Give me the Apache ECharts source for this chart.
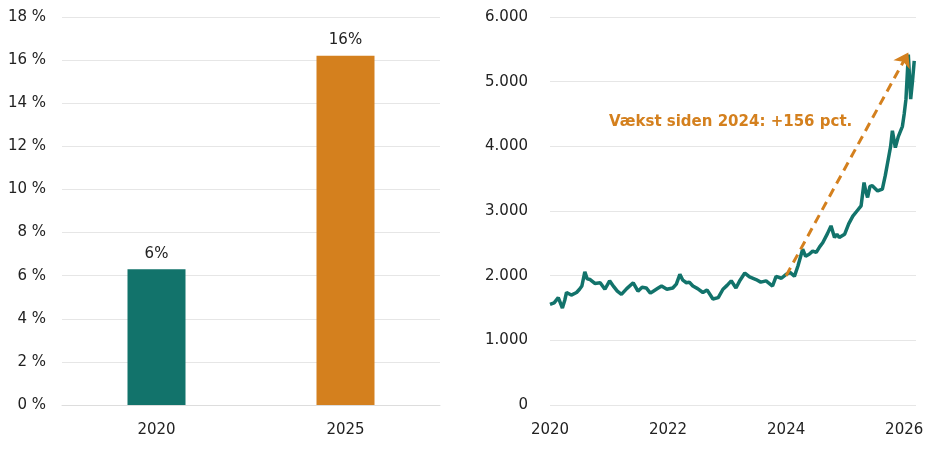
<!DOCTYPE html>
<html>
<head>
<meta charset="utf-8">
<script src="https://cdn.jsdelivr.net/npm/echarts@6/dist/echarts.min.js"></script>
<style>html,body{margin:0;padding:0;background:#fff}#chart{width:928px;height:451px}</style>
</head>
<body>
<div id="chart"></div>
<script>
const barCategories = ['2020', '2025'];
const barValues = [6.3, 16.2];
const barLabels = ['6%', '16%'];
const barColors = ['#12736b', '#d4801e'];

const lineYears = [2020.0, 2020.07, 2020.14, 2020.21, 2020.25, 2020.28, 2020.36, 2020.45, 2020.5, 2020.54, 2020.59, 2020.63, 2020.68, 2020.76, 2020.85, 2020.93,
    2021.01, 2021.08, 2021.14, 2021.21, 2021.3, 2021.41, 2021.49, 2021.56, 2021.63, 2021.7, 2021.75, 2021.82, 2021.89, 2021.98, 2022.08, 2022.14, 2022.20, 2022.25, 2022.31,
    2022.36, 2022.42, 2022.5, 2022.59, 2022.66, 2022.76, 2022.85, 2022.93, 2023.0, 2023.07, 2023.15, 2023.22, 2023.30, 2023.38, 2023.49, 2023.57, 2023.66,
    2023.77, 2023.83, 2023.92, 2024.0, 2024.07, 2024.14, 2024.2, 2024.28, 2024.33, 2024.39, 2024.45, 2024.51, 2024.57, 2024.62, 2024.7, 2024.76, 2024.82, 2024.86, 2024.90,
    2024.99, 2025.06, 2025.13, 2025.2, 2025.27, 2025.32, 2025.35, 2025.38, 2025.42, 2025.46, 2025.55, 2025.63, 2025.68, 2025.72, 2025.77, 2025.80, 2025.85,
    2025.9, 2025.97, 2026.0, 2026.03, 2026.07, 2026.11, 2026.14, 2026.17];
const lineValues = [1556, 1580, 1660, 1500, 1620, 1740, 1700, 1740, 1790, 1840, 2060, 1950, 1940, 1880, 1890, 1790,
    1920, 1830, 1760, 1710, 1800, 1890, 1760, 1820, 1810, 1730, 1760, 1800, 1840, 1790, 1810, 1870, 2020, 1930, 1890,
    1900, 1840, 1800, 1740, 1780, 1640, 1660, 1790, 1850, 1920, 1810, 1930, 2040, 1980, 1940, 1900, 1920,
    1840, 1990, 1960, 2020, 2050, 1990, 2150, 2410, 2300, 2330, 2380, 2360, 2450, 2510, 2650, 2770, 2590, 2640, 2590,
    2640, 2800, 2920, 3000, 3080, 3440, 3300, 3210, 3380, 3390, 3310, 3340, 3550, 3750, 4000, 4240, 3980,
    4150, 4310, 4500, 4730, 5420, 4730, 5000, 5320];
const arrowFrom = [2024.0, 2000];
const arrowTo = [2026.07, 5450];
const annotation = 'Vækst siden 2024: +156 pct.';

const font = 'DejaVu Sans';
const chart = echarts.init(document.getElementById('chart'));
chart.setOption({
    animation: false,
    textStyle: { fontFamily: font },
    grid: [
        { left: 62, right: 488, top: 17, bottom: 46 },
        { left: 550, right: 12, top: 17, bottom: 46 }
    ],
    xAxis: [
        {
            gridIndex: 0, type: 'category', data: barCategories,
            axisLine: { lineStyle: { color: '#ddd' } }, axisTick: { show: false },
            axisLabel: { color: '#222', fontSize: 15, margin: 18 }
        },
        {
            gridIndex: 1, type: 'value', min: 2020, max: 2026.2, interval: 2,
            axisLine: { show: false }, axisTick: { show: false }, splitLine: { show: false },
            axisLabel: { color: '#222', fontSize: 15, margin: 18, showMaxLabel: false,
                formatter: v => Number.isInteger(v) ? String(v) : '' }
        }
    ],
    yAxis: [
        {
            gridIndex: 0, type: 'value', min: 0, max: 18, interval: 2,
            axisLine: { show: false }, axisTick: { show: false },
            splitLine: { lineStyle: { color: '#e6e6e6' } },
            axisLabel: { color: '#222', fontSize: 15, margin: 16, formatter: v => v + ' %' }
        },
        {
            gridIndex: 1, type: 'value', min: 0, max: 6000, interval: 1000,
            axisLine: { show: false }, axisTick: { show: false },
            splitLine: { lineStyle: { color: '#e6e6e6' } },
            axisLabel: { color: '#222', fontSize: 15, margin: 22,
                formatter: v => v === 0 ? '0' : (v / 1000) + '.000' }
        }
    ],
    series: [
        {
            type: 'bar', xAxisIndex: 0, yAxisIndex: 0, barWidth: 58,
            data: barValues.map((v, i) => ({ value: v, itemStyle: { color: barColors[i] } })),
            label: { show: true, position: 'top', color: '#222', fontSize: 15, distance: 8,
                formatter: p => barLabels[p.dataIndex] }
        },
        {
            type: 'line', xAxisIndex: 1, yAxisIndex: 1, symbol: 'none',
            data: lineYears.map((y, i) => [y, lineValues[i]]),
            lineStyle: { color: '#12736b', width: 3.5 },
            markLine: {
                silent: true, symbol: ['none', 'arrow'], symbolSize: 14,
                label: { show: false },
                lineStyle: { color: '#d4801e', type: [9, 6], width: 3 },
                data: [[{ coord: arrowFrom }, { coord: arrowTo }]]
            }
        }
    ],
    graphic: [{
        type: 'text', left: 609, top: 115,
        style: { text: annotation, fill: '#d4801e', font: 'bold 15px ' + font }
    }]
});
</script>
</body>
</html>
